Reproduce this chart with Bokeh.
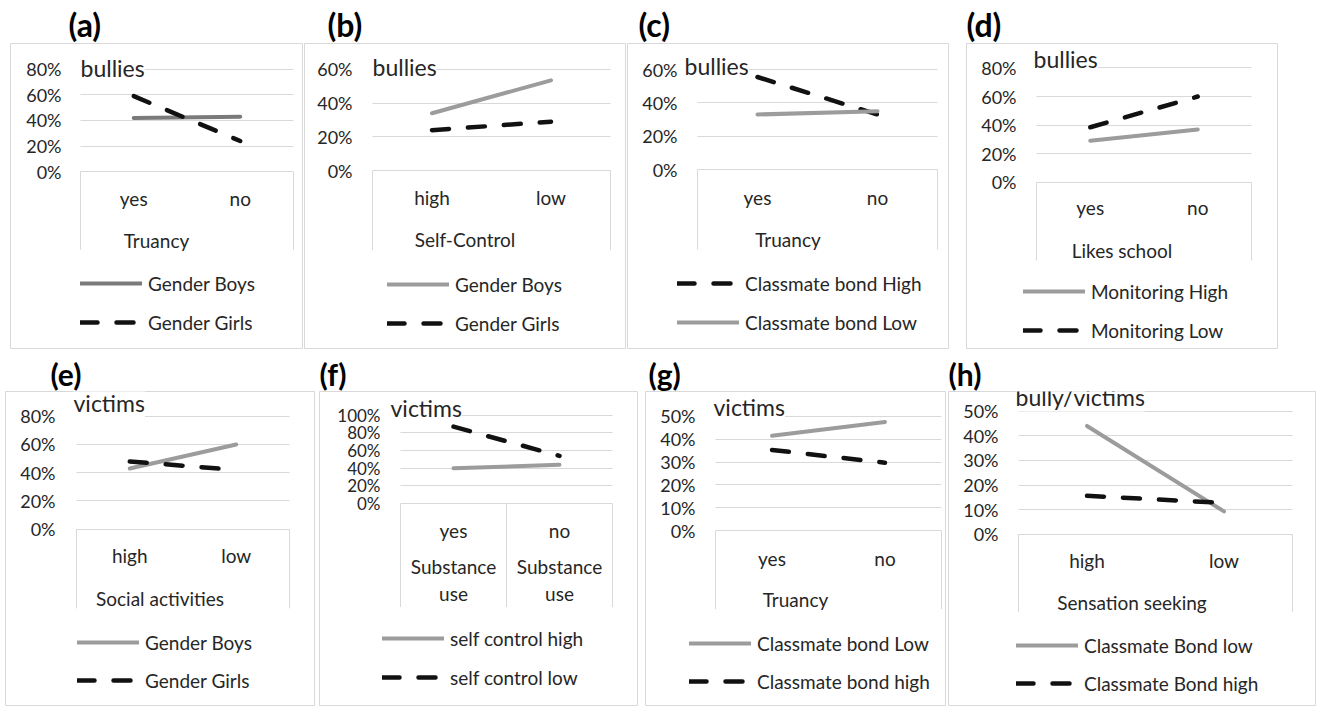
from bokeh.plotting import figure
from bokeh.layouts import row, column
from bokeh.models import (Range1d, FixedTicker, NumeralTickFormatter, Label, Legend,
                          LegendItem, LinearAxis, Grid)
from bokeh.embed import file_html
from bokeh.resources import INLINE

# ---------------- data ----------------
a_categories = ["yes", "no"]
a_axis_title = "Truancy"
a_chart_title = "bullies"
a_yticks = [0.0, 0.2, 0.4, 0.6, 0.8]
a_gender_boys = [0.42, 0.43]
a_gender_girls = [0.59, 0.24]

b_categories = ["high", "low"]
b_axis_title = "Self-Control"
b_chart_title = "bullies"
b_yticks = [0.0, 0.2, 0.4, 0.6]
b_gender_boys = [0.34, 0.535]
b_gender_girls = [0.24, 0.29]

c_categories = ["yes", "no"]
c_axis_title = "Truancy"
c_chart_title = "bullies"
c_yticks = [0.0, 0.2, 0.4, 0.6]
c_bond_high = [0.555, 0.33]
c_bond_low = [0.33, 0.35]

d_categories = ["yes", "no"]
d_axis_title = "Likes school"
d_chart_title = "bullies"
d_yticks = [0.0, 0.2, 0.4, 0.6, 0.8]
d_monitoring_high = [0.29, 0.37]
d_monitoring_low = [0.385, 0.60]

e_categories = ["high", "low"]
e_axis_title = "Social activities"
e_chart_title = "victims"
e_yticks = [0.0, 0.2, 0.4, 0.6, 0.8]
e_gender_boys = [0.43, 0.60]
e_gender_girls = [0.48, 0.42]

f_categories = ["yes", "no"]
f_group_labels = ["Substance\nuse", "Substance\nuse"]
f_chart_title = "victims"
f_yticks = [0.0, 0.2, 0.4, 0.6, 0.8, 1.0]
f_self_control_high = [0.40, 0.44]
f_self_control_low = [0.87, 0.54]

g_categories = ["yes", "no"]
g_axis_title = "Truancy"
g_chart_title = "victims"
g_yticks = [0.0, 0.1, 0.2, 0.3, 0.4, 0.5]
g_bond_low = [0.415, 0.475]
g_bond_high = [0.353, 0.297]

h_categories = ["high", "low"]
h_axis_title = "Sensation seeking"
h_chart_title = "bully/victims"
h_yticks = [0.0, 0.1, 0.2, 0.3, 0.4, 0.5]
h_bond_low = [0.44, 0.093]
h_bond_high = [0.156, 0.127]

# ---------------- styles ----------------
FONT = "Lato"
TXT = "#262626"
GRID = "#d9d9d9"
LAB = "19px"
STYLES = {
    "gray_dark": dict(line_color="#7a7a7a", line_width=4, line_cap="round"),
    "gray": dict(line_color="#9c9c9c", line_width=4, line_cap="round"),
    "dash": dict(line_color="#111111", line_width=4.5, line_dash="17 19", line_cap="round"),
}


def panel(letter, cats, axis_title, chart_title, yticks, series, g, group_labels=None,
          ytick_size="18px", plabel_size="32px"):
    fl, fr, ft, fb = g["canvas"]
    bl, bt, br, bb = g["box"]
    pl, pr = g["pa"]
    n = len(cats)
    ppx = (pr - pl) / n
    ppy = (g["y0"] - g["ytop"]) / yticks[-1]
    xr = Range1d((bl - pl) / ppx, n + (br - pr) / ppx)
    yr = Range1d(-(bb - g["y0"]) / ppy, (g["y0"] - bt) / ppy)

    p = figure(width=fr - fl, height=fb - ft, x_range=xr, y_range=yr,
               output_backend="svg", toolbar_location=None,
               x_axis_location=None, y_axis_location=None,
               min_border_left=bl - fl, min_border_right=fr - br,
               min_border_top=bt - ft, min_border_bottom=fb - bb,
               title=f"({letter})")
    p.background_fill_color = "white"
    p.border_fill_color = "white"
    p.outline_line_color = GRID
    p.outline_line_width = 1
    for gr in p.grid:
        gr.visible = False

    p.title.text_font = FONT
    p.title.text_font_style = "bold"
    p.title.text_font_size = plabel_size
    p.title.text_color = "#000000"
    p.title.align = "left"
    p.title.offset = g["plabel"] - bl
    p.title.standoff = 0

    # y axis (tick labels only)
    yax = LinearAxis(fixed_location=0, ticker=FixedTicker(ticks=yticks),
                     formatter=NumeralTickFormatter(format="0%"),
                     axis_line_color=None, major_tick_line_color=None,
                     minor_tick_line_color=None, major_tick_in=0, major_tick_out=0,
                     major_label_standoff=pl - g["ylab_r"],
                     major_label_text_font=FONT, major_label_text_font_size=ytick_size,
                     major_label_text_color=TXT)
    p.add_layout(yax, "left")

    # gridlines restricted to the plot area
    grid = Grid(dimension=1, ticker=FixedTicker(ticks=yticks), cross_bounds=(0, n),
                grid_line_color=GRID, grid_line_width=1)
    p.add_layout(grid)

    # category axis
    xs = [i + 0.5 for i in range(n)]
    xax = LinearAxis(fixed_location=0, ticker=FixedTicker(ticks=xs),
                     major_label_overrides={x: c for x, c in zip(xs, cats)},
                     axis_line_color=None, major_tick_line_color=None,
                     minor_tick_line_color=None, major_tick_in=0, major_tick_out=0,
                     major_label_standoff=g["xlab"] - g["y0"] - 12,
                     major_label_text_font=FONT, major_label_text_font_size=LAB,
                     major_label_text_color=TXT)
    if axis_title:
        xax.axis_label = axis_title
        xax.axis_label_standoff = g["axt"] - g["xlab"] - 24
        xax.axis_label_text_font = FONT
        xax.axis_label_text_font_size = LAB
        xax.axis_label_text_font_style = "normal"
        xax.axis_label_text_color = TXT
    p.add_layout(xax, "below")
    if group_labels:
        xax2 = LinearAxis(fixed_location=0, ticker=FixedTicker(ticks=xs),
                          major_label_overrides={x: c for x, c in zip(xs, group_labels)},
                          axis_line_color=None, major_tick_line_color=None,
                          minor_tick_line_color=None, major_tick_in=0, major_tick_out=0,
                          major_label_standoff=g["glab"] - g["y0"] - 28,
                          major_label_text_font=FONT, major_label_text_font_size=LAB,
                          major_label_text_color=TXT)
        p.add_layout(xax2, "below")

    # category box lines
    cb = -(g["catb"] - g["y0"]) / ppy
    dividers = list(range(0, n + 1)) if group_labels else [0, n]
    p.segment(x0=dividers, y0=[0] * len(dividers), x1=dividers, y1=[cb] * len(dividers),
              line_color=GRID, line_width=1)

    # series
    items = []
    for label, vals, style in series:
        r = p.line(xs, vals, **STYLES[style])
        items.append(LegendItem(label=label, renderers=[r]))

    item_h = 24
    spacing = (g["leg_y"][1] - g["leg_y"][0]) - item_h
    leg_bottom = g["leg_y"][1] + item_h / 2 + 3
    legend = Legend(items=items, location=(g["leg_x"] - bl, bb - leg_bottom),
                    orientation="vertical", border_line_color=None,
                    background_fill_alpha=0, padding=0, margin=0, spacing=int(spacing),
                    glyph_width=62, glyph_height=item_h, label_height=item_h,
                    label_standoff=6, label_text_font=FONT, label_text_font_size=LAB,
                    label_text_color=TXT)
    p.add_layout(legend)

    lab = Label(x=(g["title"][0] - pl) / ppx, y=(g["y0"] - g["title"][1]) / ppy,
                text=chart_title, text_align="left", text_baseline="middle",
                text_font=FONT, text_font_size="23px", text_color=TXT,
                background_fill_color="white")
    p.add_layout(lab)
    return p


TOP = (0, 353)
BOT = (353, 709)

pa = panel("a", a_categories, a_axis_title, a_chart_title, a_yticks,
           [("Gender Boys", a_gender_boys, "gray_dark"), ("Gender Girls", a_gender_girls, "dash")],
           dict(canvas=(0, 303) + TOP, box=(10, 43, 302, 352), pa=(80, 293), ytop=69, y0=173,
                catb=252, xlab=200, axt=240, leg_x=80, leg_y=(284, 323), title=(80, 68),
                plabel=68, ylab_r=61))
pb = panel("b", b_categories, b_axis_title, b_chart_title, b_yticks,
           [("Gender Boys", b_gender_boys, "gray"), ("Gender Girls", b_gender_girls, "dash")],
           dict(canvas=(303, 626) + TOP, box=(304, 43, 625, 350), pa=(372, 610), ytop=69, y0=171,
                catb=251, xlab=198, axt=238, leg_x=387, leg_y=(283, 322), title=(372, 67),
                plabel=327, ylab_r=352))
pc = panel("c", c_categories, c_axis_title, c_chart_title, c_yticks,
           [("Classmate bond High", c_bond_high, "dash"), ("Classmate bond Low", c_bond_low, "gray")],
           dict(canvas=(626, 950) + TOP, box=(627, 43, 948, 348), pa=(697, 937), ytop=69, y0=169,
                catb=249, xlab=197, axt=237, leg_x=677, leg_y=(280, 319), title=(684, 65),
                plabel=638, ylab_r=677))
pd_ = panel("d", d_categories, d_axis_title, d_chart_title, d_yticks,
            [("Monitoring High", d_monitoring_high, "gray"), ("Monitoring Low", d_monitoring_low, "dash")],
            dict(canvas=(950, 1316) + TOP, box=(966, 40, 1277, 352), pa=(1036, 1251), ytop=65, y0=182,
                 catb=262, xlab=208, axt=248, leg_x=1023, leg_y=(292, 331), title=(1033, 56),
                 plabel=966, ylab_r=1016))
pe = panel("e", e_categories, e_axis_title, e_chart_title, e_yticks,
           [("Gender Boys", e_gender_boys, "gray"), ("Gender Girls", e_gender_girls, "dash")],
           dict(canvas=(0, 317) + BOT, box=(5, 391, 314, 708), pa=(76, 289), ytop=416, y0=530,
                catb=610, xlab=557, axt=597, leg_x=77, leg_y=(642, 680), title=(73, 403),
                plabel=50, ylab_r=55), plabel_size="30px")
pf = panel("f", f_categories, None, f_chart_title, f_yticks,
           [("self control high", f_self_control_high, "gray"), ("self control low", f_self_control_low, "dash")],
           dict(canvas=(317, 641) + BOT, box=(319, 388, 637, 707), pa=(400, 612), ytop=412, y0=502,
                catb=607, xlab=529, glab=581, leg_x=382, leg_y=(637, 676), title=(390, 405),
                plabel=319, ylab_r=380),
           group_labels=f_group_labels, ytick_size="17px", plabel_size="30px")
pg = panel("g", g_categories, g_axis_title, g_chart_title, g_yticks,
           [("Classmate bond Low", g_bond_low, "gray"), ("Classmate bond high", g_bond_high, "dash")],
           dict(canvas=(641, 946) + BOT, box=(645, 389, 945, 705), pa=(715, 941), ytop=414, y0=529,
                catb=608, xlab=557, axt=596, leg_x=689, leg_y=(640, 678), title=(713, 405),
                plabel=648, ylab_r=695), plabel_size="30px")
ph = panel("h", h_categories, h_axis_title, h_chart_title, h_yticks,
           [("Classmate Bond low", h_bond_low, "gray"), ("Classmate Bond high", h_bond_high, "dash")],
           dict(canvas=(946, 1316) + BOT, box=(948, 389, 1315, 708), pa=(1018, 1292), ytop=409, y0=534,
                catb=613, xlab=561, axt=600, leg_x=1016, leg_y=(645, 683), title=(1015, 395),
                plabel=948, ylab_r=998), plabel_size="30px")

layout = column(row(pa, pb, pc, pd_, spacing=0), row(pe, pf, pg, ph, spacing=0), spacing=0)

open("out.html", "w").write(file_html(layout, INLINE))
